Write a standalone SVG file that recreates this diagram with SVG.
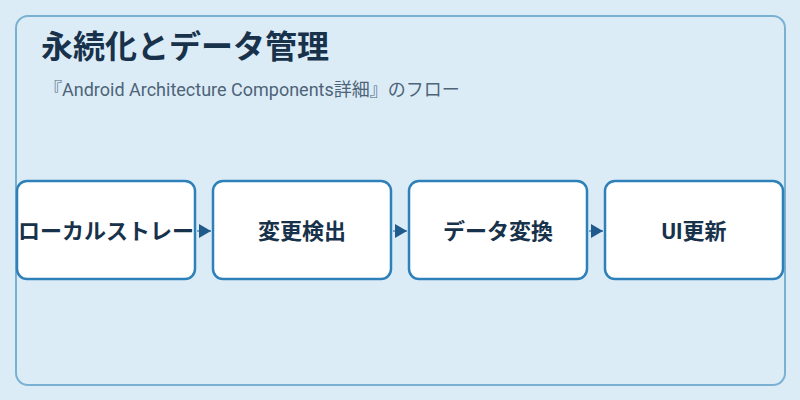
<svg xmlns="http://www.w3.org/2000/svg" width="800" height="400" viewBox="0 0 800 400">
<style>
.bg{fill:#dcecf7}
.panel{fill:#dcecf7;stroke:#7ab1d3;stroke-width:2}
.title{font-family:Roboto,"Noto Sans CJK JP",sans-serif;font-weight:700;font-size:32px;fill:#17324a}
.sub{font-family:Roboto,"Noto Sans CJK JP",sans-serif;font-size:18px;fill:#4d6478}
.box{fill:#ffffff;stroke:#2e80b8;stroke-width:2.5}
.lbl{font-family:Roboto,"Noto Sans CJK JP",sans-serif;font-weight:700;font-size:22px;fill:#17324a;text-anchor:middle}
.conn{stroke:#1f5b8c;stroke-width:1;fill:none}
</style>
<defs>
<marker id="arr" viewBox="0 0 12 14" refX="12" refY="7" markerWidth="12" markerHeight="14" markerUnits="userSpaceOnUse" orient="auto">
<path d="M0,0 L12,7 L0,14 Z" fill="#1f5b8c"/>
</marker>
</defs>
<rect class="bg" x="0" y="0" width="800" height="400"/>
<rect class="panel" x="16" y="16" width="769" height="369" rx="12"/>
<text class="title" x="41" y="58">永続化とデータ管理</text>
<text class="sub" x="44" y="96">『Android Architecture Components詳細』のフロー</text>
<g id="connectors">
<line class="conn" x1="197" y1="231" x2="211" y2="231" marker-end="url(#arr)"/>
<line class="conn" x1="393" y1="231" x2="407" y2="231" marker-end="url(#arr)"/>
<line class="conn" x1="589" y1="231" x2="603" y2="231" marker-end="url(#arr)"/>
</g>
<g id="node1"><rect class="box" x="17" y="181" width="178" height="98" rx="10"/><text class="lbl" x="106" y="239">ローカルストレー</text></g>
<g id="node2"><rect class="box" x="213" y="181" width="178" height="98" rx="10"/><text class="lbl" x="302" y="239">変更検出</text></g>
<g id="node3"><rect class="box" x="409" y="181" width="178" height="98" rx="10"/><text class="lbl" x="498" y="239">データ変換</text></g>
<g id="node4"><rect class="box" x="605" y="181" width="178" height="98" rx="10"/><text class="lbl" x="694" y="239">UI更新</text></g>
</svg>
